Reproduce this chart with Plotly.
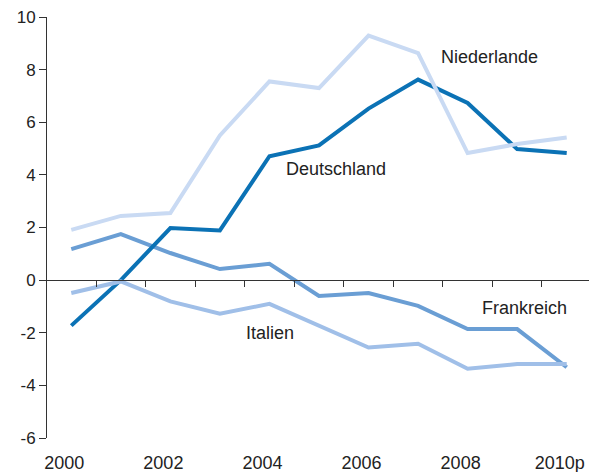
import plotly.graph_objects as go

years = list(range(2000, 2011))
tick_years = [2000, 2002, 2004, 2006, 2008, 2010]
tick_labels = ["2000", "2002", "2004", "2006", "2008", "2010p"]
y_ticks = [-6, -4, -2, 0, 2, 4, 6, 8, 10]
y_tick_labels = ["-6", "-4", "-2", "0", "2", "4", "6", "8", "10"]

deutschland = [-1.73, 0.0, 1.98, 1.89, 4.71, 5.12, 6.52, 7.62, 6.73, 4.98, 4.83]
niederlande = [1.91, 2.44, 2.55, 5.50, 7.55, 7.30, 9.29, 8.63, 4.83, 5.17, 5.42]
frankreich = [1.18, 1.75, 1.03, 0.42, 0.62, -0.60, -0.49, -0.98, -1.86, -1.86, -3.31]
italien = [-0.49, -0.05, -0.81, -1.28, -0.90, -1.73, -2.56, -2.42, -3.37, -3.19, -3.19]

series = [
    ("Frankreich", frankreich, "#6a9ed4"),
    ("Deutschland", deutschland, "#0b72b5"),
    ("Italien", italien, "#a0bfe8"),
    ("Niederlande", niederlande, "#c9daf3"),
]

labels = [
    ("Deutschland", 2005.34, 4.23),
    ("Niederlande", 2008.44, 8.47),
    ("Frankreich", 2009.14, -1.07),
    ("Italien", 2004.02, -2.0),
]

FONT = "Liberation Sans, Arial, Helvetica, sans-serif"
TXT = "#222222"
AX = "#333333"
xr = [1999.51, 2010.45]

fig = go.Figure()
# helper trace so the zero-line axis is drawn
fig.add_trace(go.Scatter(x=[years[0]], y=[0], xaxis="x2", yaxis="y", mode="none",
                         showlegend=False, hoverinfo="skip"))
for name, vals, col in series:
    fig.add_trace(go.Scatter(x=years, y=vals, mode="lines", name=name,
                             line=dict(color=col, width=4), showlegend=False))

for text, x, y in labels:
    fig.add_annotation(x=x, y=y, text=text, showarrow=False,
                       font=dict(family=FONT, size=18, color=TXT),
                       xanchor="center", yanchor="middle")

fig.update_layout(
    width=589, height=472,
    margin=dict(l=47.3, r=0, t=16.7, b=33.7, autoexpand=False),
    paper_bgcolor="white", plot_bgcolor="white",
    font=dict(family=FONT, size=17, color=TXT),
    xaxis=dict(range=xr, tickvals=tick_years, ticktext=tick_labels,
               showline=False, showgrid=False, zeroline=False, ticks="",
               ticklabelshift=-7, ticklabelstandoff=12, automargin=False,
               ticklabeloverflow="allow",
               tickfont=dict(family=FONT, size=18, color=TXT)),
    xaxis2=dict(range=xr, overlaying="x", anchor="free", position=0.375,
                side="bottom", showline=True, linecolor=AX, linewidth=1,
                ticks="outside", ticklen=6, tickcolor=AX, tickwidth=1,
                tickvals=[y + 0.5 for y in years[:-1]], automargin=False,
                showticklabels=False, showgrid=False, zeroline=False),
    yaxis=dict(range=[-6, 10], tickvals=y_ticks, ticktext=y_tick_labels,
               showline=True, linecolor=AX, automargin=False,
               linewidth=1, ticks="outside", ticklen=7, tickcolor=AX,
               showgrid=False, zeroline=False, ticklabeloverflow="allow",
               tickfont=dict(family=FONT, size=17, color=TXT)),
)

fig.write_html("out.html", config={"displayModeBar": False},
               post_script="document.body.style.margin='0';document.body.style.overflow='hidden';")
